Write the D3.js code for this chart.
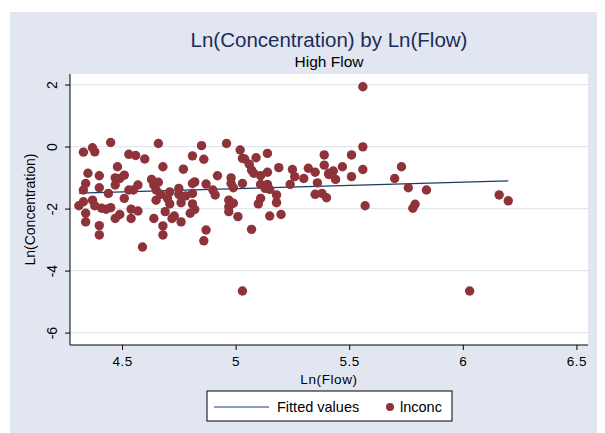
<!DOCTYPE html>
<html>
<head>
<meta charset="utf-8">
<script src="https://cdn.jsdelivr.net/npm/d3@7"></script>
<style>
  body { margin: 0; background: #fff; }
  svg text { font-family: "Liberation Sans", Arial, sans-serif; }
</style>
</head>
<body>
<div id="chart"></div>
<script>
// ln(flow) / ln(concentration) pairs
var lnflow = [4.45, 4.33, 4.37, 4.38, 4.66, 4.53, 4.56, 4.60, 4.48, 4.35,
    4.40, 4.47, 4.49, 4.51, 4.63, 4.34, 4.33, 4.40, 4.47, 4.57,
    4.55, 4.44, 4.53, 4.64, 4.65, 4.33, 4.31, 4.37, 4.38, 4.41,
    4.51, 4.43, 4.45, 4.49, 4.47, 4.54, 4.57, 4.34, 4.34, 4.40,
    4.54, 4.40, 4.59, 4.64, 4.68, 4.68, 4.69, 4.72, 4.73, 4.76,
    4.80, 4.82, 4.81, 4.87, 4.86, 4.97, 4.97, 5.01, 4.76, 4.71,
    4.65, 4.85, 4.96, 5.02, 5.03, 4.81, 4.86, 4.68, 4.77, 4.92,
    4.82, 4.81, 4.87, 4.98, 4.98, 4.99, 5.03, 4.66, 4.67, 4.71,
    4.70, 4.75, 4.75, 4.78, 4.81, 4.90, 4.91, 4.97, 4.99,
    5.04, 5.09, 5.14, 5.06, 5.07, 5.08, 5.11, 5.14, 5.19, 5.11,
    5.14, 5.13, 5.15, 5.18, 5.18, 5.11, 5.10, 5.24, 5.25, 5.26,
    5.30, 5.32, 5.35, 5.36, 5.35, 5.38, 5.40, 5.39, 5.39, 5.41,
    5.15, 5.20, 5.07,
    5.56, 5.51, 5.47, 5.43, 5.41, 5.44, 5.51, 5.56, 5.73, 5.70,
    5.76, 5.57, 5.79, 5.78, 5.84, 6.16, 6.20,
    5.56, 5.03, 6.03];
var lnconc = [0.13, -0.18, -0.04, -0.17, 0.10, -0.25, -0.29, -0.40, -0.65, -0.86,
    -0.94, -1.01, -1.03, -0.92, -1.06, -1.19, -1.40, -1.33, -1.24, -1.24,
    -1.40, -1.51, -1.40, -1.24, -1.40, -1.78, -1.91, -1.73, -1.91, -1.99,
    -1.67, -2.02, -1.97, -2.19, -2.32, -2.02, -2.08, -2.15, -2.43, -2.55,
    -2.32, -2.85, -3.24, -2.32, -2.56, -2.85, -2.10, -2.32, -2.24, -2.43,
    -2.15, -2.03, -1.85, -2.69, -3.04, -1.94, -2.10, -2.26, -1.81, -1.85,
    -1.73, 0.03, 0.10, -0.11, -0.38, -0.30, -0.41, -0.65, -0.73, -0.94,
    -1.14, -1.19, -1.21, -1.01, -1.19, -1.33, -1.19, -1.15, -1.54, -1.46,
    -1.67, -1.35, -1.54, -1.59, -1.51, -1.40, -1.56, -1.73, -1.83,
    -0.40, -0.36, -0.22, -0.57, -0.76, -0.86, -0.94, -0.83, -0.68, -1.22,
    -1.22, -1.35, -1.38, -1.56, -1.81, -1.67, -1.85, -1.22, -0.74, -0.97,
    -1.03, -0.70, -0.83, -1.17, -1.54, -1.51, -1.65, -0.27, -0.60, -0.86,
    -2.24, -2.19, -2.67,
    -0.01, -0.27, -0.65, -0.79, -0.90, -1.06, -0.97, -0.74, -0.65, -1.03,
    -1.33, -1.91, -1.86, -1.99, -1.40, -1.56, -1.75,
    1.93, -4.66, -4.66];

// fitted values line (end points)
var fitX = [4.31, 6.20];
var fitY = [-1.50, -1.11];

var xTicks = [4.5, 5, 5.5, 6, 6.5];
var yTicks = [2, 0, -2, -4, -6];

var W = 605, H = 433;
var plot = { left: 70, right: 588, top: 74, bottom: 345 };

var svg = d3.select("#chart").append("svg")
    .attr("width", W)
    .attr("height", H);

// graph region
svg.append("rect")
    .attr("x", 10).attr("y", 12)
    .attr("width", 587).attr("height", 421)
    .attr("fill", "#e1e6f0");

svg.append("rect")
    .attr("x", plot.left).attr("y", plot.top)
    .attr("width", plot.right - plot.left).attr("height", plot.bottom - plot.top)
    .attr("fill", "#fff");

var x = d3.scaleLinear().domain([4.271, 6.551]).range([plot.left, plot.right]);
var y = d3.scaleLinear().domain([-6.4, 2.34]).range([plot.bottom, plot.top]);

// grid lines
svg.append("g")
    .selectAll("line")
    .data(yTicks)
    .enter()
    .append("line")
    .attr("x1", plot.left).attr("x2", plot.right)
    .attr("y1", function (d) { return y(d); })
    .attr("y2", function (d) { return y(d); })
    .attr("stroke", "#e0e5ee")
    .attr("stroke-width", 1.2);

// axes
var xAxis = svg.append("g")
    .attr("transform", "translate(0," + plot.bottom + ")")
    .call(d3.axisBottom(x).tickValues(xTicks).tickSize(5).tickPadding(6)
        .tickFormat(function (d) { return d; }));
xAxis.select(".domain").attr("d", "M" + plot.left + ",0H" + plot.right);
xAxis.selectAll("text").attr("font-size", 13.5).attr("fill", "#000").style("letter-spacing", "0.5px");

var yAxis = svg.append("g")
    .attr("transform", "translate(" + plot.left + ",0)")
    .call(d3.axisLeft(y).tickValues(yTicks).tickSize(5).tickFormat(function (d) { return d; }));
yAxis.select(".domain").attr("d", "M0," + plot.top + "V" + plot.bottom);
yAxis.selectAll("text")
    .attr("font-size", 14)
    .attr("fill", "#000")
    .attr("x", null).attr("dy", null)
    .attr("text-anchor", "middle")
    .attr("transform", "translate(-13,0) rotate(-90)");

// fitted line
svg.append("line")
    .attr("x1", x(fitX[0])).attr("y1", y(fitY[0]))
    .attr("x2", x(fitX[1])).attr("y2", y(fitY[1]))
    .attr("stroke", "#1a3a6e")
    .attr("stroke-width", 1.2);

// points
svg.append("g")
    .selectAll("circle")
    .data(lnflow)
    .enter()
    .append("circle")
    .attr("cx", function (d) { return x(d); })
    .attr("cy", function (d, i) { return y(lnconc[i]); })
    .attr("r", 4.7)
    .attr("fill", "#8e333a");

// titles
svg.append("text")
    .attr("x", 329).attr("y", 47)
    .attr("text-anchor", "middle")
    .attr("font-size", 20.5)
    .attr("fill", "#1c2c58")
    .text("Ln(Concentration) by Ln(Flow)");

svg.append("text")
    .attr("x", 329).attr("y", 67)
    .attr("text-anchor", "middle")
    .attr("font-size", 15.5)
    .attr("fill", "#000")
    .text("High Flow");

svg.append("text")
    .attr("x", 329).attr("y", 384)
    .attr("text-anchor", "middle")
    .attr("font-size", 13.5)
    .attr("fill", "#000")
    .style("letter-spacing", "0.6px")
    .text("Ln(Flow)");

svg.append("text")
    .attr("transform", "translate(35," + ((plot.top + plot.bottom) / 2) + ") rotate(-90)")
    .attr("text-anchor", "middle")
    .attr("font-size", 14)
    .attr("fill", "#000")
    .text("Ln(Concentration)");

// legend
var legend = svg.append("g").attr("transform", "translate(207,391)");
legend.append("rect")
    .attr("width", 245).attr("height", 30)
    .attr("fill", "#fff")
    .attr("stroke", "#000")
    .attr("stroke-width", 1);
legend.append("line")
    .attr("x1", 7).attr("x2", 62).attr("y1", 16).attr("y2", 16)
    .attr("stroke", "#1a3a6e").attr("stroke-width", 1.2);
legend.append("text")
    .attr("x", 70).attr("y", 21)
    .attr("font-size", 14.5)
    .text("Fitted values");
legend.append("circle")
    .attr("cx", 183).attr("cy", 16).attr("r", 4)
    .attr("fill", "#8e333a");
legend.append("text")
    .attr("x", 193).attr("y", 21)
    .attr("font-size", 14.5)
    .text("lnconc");
</script>
</body>
</html>
